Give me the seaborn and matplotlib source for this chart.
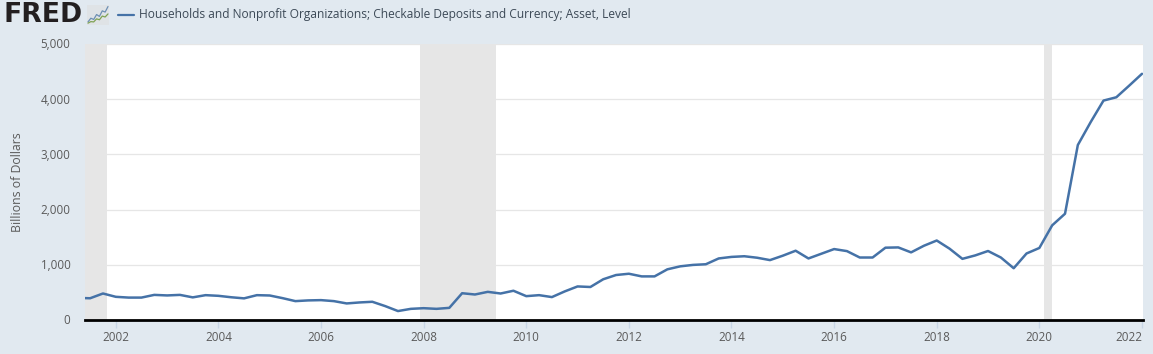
import matplotlib
matplotlib.use("Agg")
import matplotlib.pyplot as plt
import matplotlib.transforms as mtrans
import numpy as np
import pandas as pd
import seaborn as sns

TITLE = "Households and Nonprofit Organizations; Checkable Deposits and Currency; Asset, Level"
YLABEL = "Billions of Dollars"

start_year = 2001.25
values = [
    400, 394, 480, 420, 406, 406, 455, 445, 455, 410, 450, 438, 412, 392, 450, 444,
    396, 342, 355, 360, 342, 300, 318, 330, 252, 162, 202, 214, 202, 220, 485, 462,
    510, 480, 530, 432, 450, 415, 518, 608, 598, 738, 815, 838, 790, 790, 918, 972,
    998, 1010, 1115, 1143, 1155, 1128, 1085, 1165, 1255, 1115, 1200, 1285, 1248, 1132, 1132, 1310,
    1315, 1225, 1345, 1440, 1292, 1108, 1170, 1250, 1132, 938, 1205, 1305, 1715, 1925, 3170, 3585,
    3975, 4035, 4245, 4460,
]
years = [start_year + i * 0.25 for i in range(len(values))]
recessions = [(2001.17, 2001.83), (2007.93, 2009.41), (2020.10, 2020.25)]
y_ticks = [0, 1000, 2000, 3000, 4000, 5000]
x_ticks = [2002, 2004, 2006, 2008, 2010, 2012, 2014, 2016, 2018, 2020, 2022]
icon_blue = [1, 2.2, 1.8, 3.4, 2.8, 4.6, 4.2, 6]
icon_green = [0.6, 1.1, 1.0, 2.0, 1.7, 2.9, 2.6, 3.6]

BG = "#e1e9f0"
LINE = "#4572a7"
GRID = "#e6e6e6"
TXT = "#5a5a5a"
W, H = 1153, 354

sns.set_theme(style="white")
plt.rcParams["font.family"] = ["Open Sans", "DejaVu Sans"]

fig = plt.figure(figsize=(W / 100, H / 100), dpi=100, facecolor=BG)
L, R, T, B = 85, 1143, 44, 320
ax = fig.add_axes([L / W, 1 - B / H, (R - L) / W, (B - T) / H], facecolor="white")

for a, b in recessions:
    ax.axvspan(a, b, color=GRID, lw=0, zorder=1)
ax.set_axisbelow(True)
ax.yaxis.grid(True, color=GRID, lw=0.9)
ax.xaxis.grid(False)

df = pd.DataFrame({"year": years, "value": values})
sns.lineplot(data=df, x="year", y="value", ax=ax, color=LINE, lw=1.8, errorbar=None, zorder=3)

ax.set_xlim(2001.40, 2022.02)
ax.set_ylim(0, 5000)
ax.set_xlabel("")
ax.set_ylabel("")
for s in ["top", "right", "left"]:
    ax.spines[s].set_visible(False)
ax.spines["bottom"].set_color("black")
ax.spines["bottom"].set_linewidth(2)

ax.set_yticks(y_ticks)
ax.set_yticklabels([f"{v:,}" for v in y_ticks], fontsize=8.4, color=TXT)
ax.tick_params(axis="y", length=0, pad=10.5)
ax.set_xticks(x_ticks)
labels = ax.set_xticklabels([str(v) for v in x_ticks], fontsize=8.4, color=TXT)
labels[-1].set_ha("right")
ax.tick_params(axis="x", length=6, width=1, color="#c8d6e6", pad=2, bottom=True)
shift = mtrans.ScaledTranslation(0, -1 / 100, fig.dpi_scale_trans)
for lab in ax.get_yticklabels():
    lab.set_va("center")
    lab.set_transform(lab.get_transform() + shift)

fig.text(18 / W, 1 - 182 / H, YLABEL, rotation=90, ha="center", va="center", fontsize=8.8, color=TXT)

# header
fig.text(4 / W, 1 - 15 / H, "FRED", ha="left", va="center", fontsize=19.2,
         fontweight="bold", color="#231f20", family=["DejaVu Sans"])
fig.add_artist(plt.Line2D([118 / W, 134 / W], [1 - 14.5 / H] * 2, color=LINE, lw=1.6))
fig.text(139 / W, 1 - 14.5 / H, TITLE, ha="left", va="center", fontsize=8.63, color="#3d4a57")

icon = fig.add_axes([87 / W, 1 - 25 / H, 22 / W, 20 / H], facecolor="#dfe3e6")
icon.plot(icon_blue, color="#6d8fb3", lw=0.9)
icon.plot(icon_green, color="#7fa354", lw=0.9)
icon.set_xticks([])
icon.set_yticks([])
icon.set_ylim(0, 6.5)
for s in icon.spines.values():
    s.set_visible(False)

fig.savefig("out.png", dpi=100, facecolor=BG)
